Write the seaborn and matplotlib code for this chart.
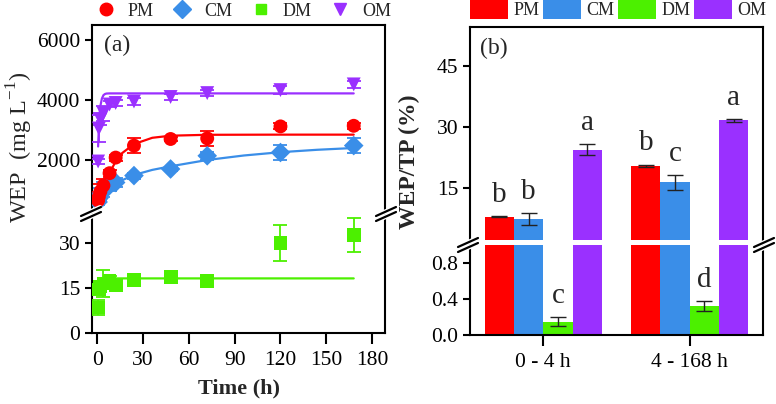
import numpy as np
import pandas as pd
import matplotlib
matplotlib.use("Agg")
import matplotlib.pyplot as plt
import seaborn as sns
from matplotlib.lines import Line2D
from matplotlib.patches import Patch

# ---------------- data ----------------
manures = ["PM", "CM", "DM", "OM"]
palette = {"PM": "#ff0000", "CM": "#3a8ee8", "DM": "#4cf000", "OM": "#9a30ff"}
markers = {"PM": "o", "CM": "D", "DM": "s", "OM": "v"}

time_h = [0.5, 1, 2, 4, 8, 12, 24, 48, 72, 120, 168]
pm_wep = [650, 780, 950, 1150, 1560, 2080, 2480, 2700, 2720, 3120, 3140]
pm_err = [100, 150, 250, 200, 120, 100, 250, 80, 250, 100, 100]
cm_wep = [600, 720, 850, 1000, 1150, 1250, 1480, 1700, 2140, 2250, 2480]
cm_err = [100, 150, 200, 250, 200, 150, 100, 80, 130, 250, 250]
om_wep = [1950, 3050, 3350, 3550, 3850, 3900, 3950, 4100, 4230, 4330, 4520]
om_err = [80, 450, 200, 250, 100, 100, 120, 100, 100, 120, 120]
dm_wep = [8.5, 14.5, 15.5, 16.5, 17.5, 16.0, 17.8, 18.8, 17.4, 30.0, 32.8]
dm_err = [2.5, 1.5, 1.5, 4.5, 1.5, 2.0, 0.8, 0.8, 0.8, 6.0, 5.7]

pm_fit_t = [0, 1, 2, 4, 6, 8, 12, 16, 24, 36, 48, 72, 120, 168]
pm_fit = [500, 650, 800, 1080, 1340, 1570, 1950, 2220, 2530, 2740, 2810, 2840, 2845, 2845]
cm_fit_t = [0, 2, 4, 8, 12, 24, 36, 48, 72, 96, 120, 144, 168]
cm_fit = [620, 780, 900, 1080, 1230, 1500, 1670, 1790, 2000, 2150, 2260, 2340, 2400]
om_fit_t = [0.5, 1, 1.5, 2, 3, 4, 5, 6, 8, 12, 168]
om_fit = [2450, 3100, 3550, 3800, 4050, 4160, 4200, 4215, 4220, 4220, 4220]
dm_fit_t = [0, 1, 2, 3, 4, 6, 168]
dm_fit = [13.5, 15.5, 16.8, 17.6, 18.0, 18.2, 18.2]

periods = ["0-4h", "4-168h"]
pm_ratio = [7.9, 20.4]
pm_ratio_err = [0.1, 0.3]
cm_ratio = [7.4, 16.4]
cm_ratio_err = [1.4, 1.8]
dm_ratio = [0.15, 0.32]
dm_ratio_err = [0.045, 0.055]
om_ratio = [24.4, 31.6]
om_ratio_err = [1.3, 0.4]
letters = {"PM": ["b", "b"], "CM": ["b", "c"], "DM": ["c", "d"], "OM": ["a", "a"]}

# ---------------- style ----------------
sns.set_theme(style="ticks")
plt.rcParams['font.family'] = ['Liberation Serif', 'DejaVu Serif']
plt.rcParams['mathtext.fontset'] = 'custom'
plt.rcParams['mathtext.rm'] = 'Liberation Serif'
plt.rcParams['axes.linewidth'] = 1.5
plt.rcParams['xtick.major.width'] = 1.5
plt.rcParams['ytick.major.width'] = 1.5
plt.rcParams['xtick.major.size'] = 6
plt.rcParams['ytick.major.size'] = 5
plt.rcParams['xtick.labelsize'] = 15.5
plt.rcParams['ytick.labelsize'] = 15.5
plt.rcParams['xtick.color'] = 'black'
plt.rcParams['ytick.color'] = 'black'
plt.rcParams['axes.edgecolor'] = 'black'

W, H = 776, 404
fig = plt.figure(figsize=(W / 100, H / 100), dpi=100)

def rect(x0, y0, x1, y1):
    return [x0 / W, 1 - y1 / H, (x1 - x0) / W, (y1 - y0) / H]

axa_up = fig.add_axes(rect(92, 25, 385, 213))
axa_lo = fig.add_axes(rect(92, 213, 385, 333))
axb_up = fig.add_axes(rect(470, 27, 763, 240))
axb_lo = fig.add_axes(rect(470, 245, 763, 335))

# ---------------- panel (a) ----------------
series = {
    "PM": (pm_wep, pm_err, pm_fit_t, pm_fit, axa_up),
    "CM": (cm_wep, cm_err, cm_fit_t, cm_fit, axa_up),
    "OM": (om_wep, om_err, om_fit_t, om_fit, axa_up),
    "DM": (dm_wep, dm_err, dm_fit_t, dm_fit, axa_lo),
}
for m in ["CM", "PM", "OM", "DM"]:
    vals, errs, ft, fv, ax = series[m]
    c = palette[m]
    sns.lineplot(x=ft, y=fv, ax=ax, color=c, lw=1.6, zorder=2)
    ax.errorbar(time_h, vals, yerr=errs, fmt='none', ecolor=c, elinewidth=1.3,
                capsize=5, capthick=1.3, zorder=3)
    sns.scatterplot(x=time_h, y=vals, ax=ax, color=c, marker=markers[m], s=100,
                    edgecolor='none', zorder=4)

for ax in (axa_up, axa_lo):
    ax.set_xlim(-3.5, 188.5)
axa_up.set_ylim(233, 6500)
axa_lo.set_ylim(0, 40)
axa_up.set_yticks([2000, 4000, 6000])
axa_lo.set_yticks([0, 15, 30])
axa_lo.set_xticks(range(0, 181, 30))
axa_up.tick_params(axis='x', bottom=False, labelbottom=False)
axa_up.spines['bottom'].set_visible(False)
axa_lo.spines['top'].set_visible(False)
axa_lo.tick_params(axis='x', length=8, pad=5)
axa_lo.set_xlabel("Time (h)", fontsize=16, fontweight='bold', labelpad=6)
axa_up.text(0.04, 0.95, "(a)", transform=axa_up.transAxes, fontsize=17, va='top')
fig.text(20 / W, 1 - 147 / H, r"WEP  (mg L$^{\mathregular{-1}}$)", rotation=90,
         ha='center', va='center', fontsize=17.5)

# ---------------- panel (b) ----------------
df_bar = pd.DataFrame({
    "period": periods * 4,
    "manure": [m for m in manures for _ in periods],
    "ratio": pm_ratio + cm_ratio + dm_ratio + om_ratio,
    "err": pm_ratio_err + cm_ratio_err + dm_ratio_err + om_ratio_err,
})
for ax in (axb_up, axb_lo):
    sns.barplot(data=df_bar, x="period", y="ratio", hue="manure", order=periods,
                hue_order=manures, palette=palette, ax=ax, errorbar=None,
                width=0.8, saturation=1, legend=False, linewidth=0)
    ax.set_xlim(-0.5, 1.5)
    ax.set_xlabel("")
    ax.set_ylabel("")

for container, m in zip(axb_lo.containers, manures):
    sub = df_bar[df_bar.manure == m]
    for patch, (_, row), let in zip(container, sub.iterrows(), letters[m]):
        xc = patch.get_x() + patch.get_width() / 2
        for ax in (axb_up, axb_lo):
            ax.errorbar([xc], [row.ratio], yerr=[row.err], fmt='none', ecolor='#222222',
                        elinewidth=1.0, capsize=6, capthick=1.0, zorder=5)
        tgt = axb_lo if row.ratio < 1 else axb_up
        tgt.annotate(let, (xc, row.ratio + row.err), xytext=(0, 6),
                     textcoords='offset points', ha='center', va='bottom', fontsize=21)

axb_up.set_ylim(2.2, 54.6)
axb_lo.set_ylim(0, 1.0)
axb_up.set_yticks([15, 30, 45])
axb_lo.set_yticks([0.0, 0.4, 0.8])
axb_lo.set_yticklabels(["0.0", "0.4", "0.8"])
axb_up.tick_params(axis='x', bottom=False, labelbottom=False)
axb_up.spines['bottom'].set_visible(False)
axb_lo.spines['top'].set_visible(False)
axb_lo.tick_params(axis='x', length=8, pad=5)
axb_lo.set_xticks([0, 1])
axb_lo.set_xticklabels(["0 - 4 h", "4 - 168 h"])
axb_up.text(0.035, 0.95, "(b)", transform=axb_up.transAxes, fontsize=17, va='top')
fig.text(409 / W, 1 - 162 / H, "WEP/TP (%)", rotation=90, ha='center', va='center',
         fontsize=17, fontweight='bold')

# spine continuation through the gap in panel (b)
for xs in (470, 763):
    fig.add_artist(Line2D([xs / W, xs / W], [1 - 240 / H, 1 - 245 / H], color='black',
                          lw=1.5, transform=fig.transFigure))

# break marks
def brk(xc, yc):
    for dy in (-2.5, 2.5):
        x0, x1 = xc - 9, xc + 9
        y0, y1 = yc + 4 + dy, yc - 4 + dy
        fig.add_artist(Line2D([x0 / W, x1 / W], [1 - y0 / H, 1 - y1 / H], color='white',
                              lw=3.5, transform=fig.transFigure, zorder=9))
    for dy in (-2.5, 2.5):
        x0, x1 = xc - 10, xc + 10
        y0, y1 = yc + 4.5 + dy, yc - 4.5 + dy
        fig.add_artist(Line2D([x0 / W, x1 / W], [1 - y0 / H, 1 - y1 / H], color='black',
                              lw=1.6, transform=fig.transFigure, zorder=10))

brk(91, 214)
brk(386, 214)
brk(468, 245)
brk(764, 245)

# ---------------- legends ----------------
h_a = [Line2D([], [], ls='none', marker=markers[m], color=palette[m],
              markersize=(7 if m == "DM" else 9))
       for m in manures]
fig.legend(h_a, manures, loc='center', bbox_to_anchor=(243 / W, 1 - 11 / H), ncol=4,
           frameon=False, fontsize=13, handlelength=1.2, handletextpad=0.6,
           columnspacing=1.0, borderaxespad=0, borderpad=0)

h_b = [Patch(facecolor=palette[m], edgecolor='none') for m in manures]
fig.legend(h_b, manures, loc='center', bbox_to_anchor=(618 / W, 1 - 9 / H), ncol=4,
           frameon=False, fontsize=13, handlelength=2.1, handleheight=1.3,
           handletextpad=0.3, columnspacing=0.2, borderaxespad=0, borderpad=0)

fig.savefig("out.png", dpi=100)
